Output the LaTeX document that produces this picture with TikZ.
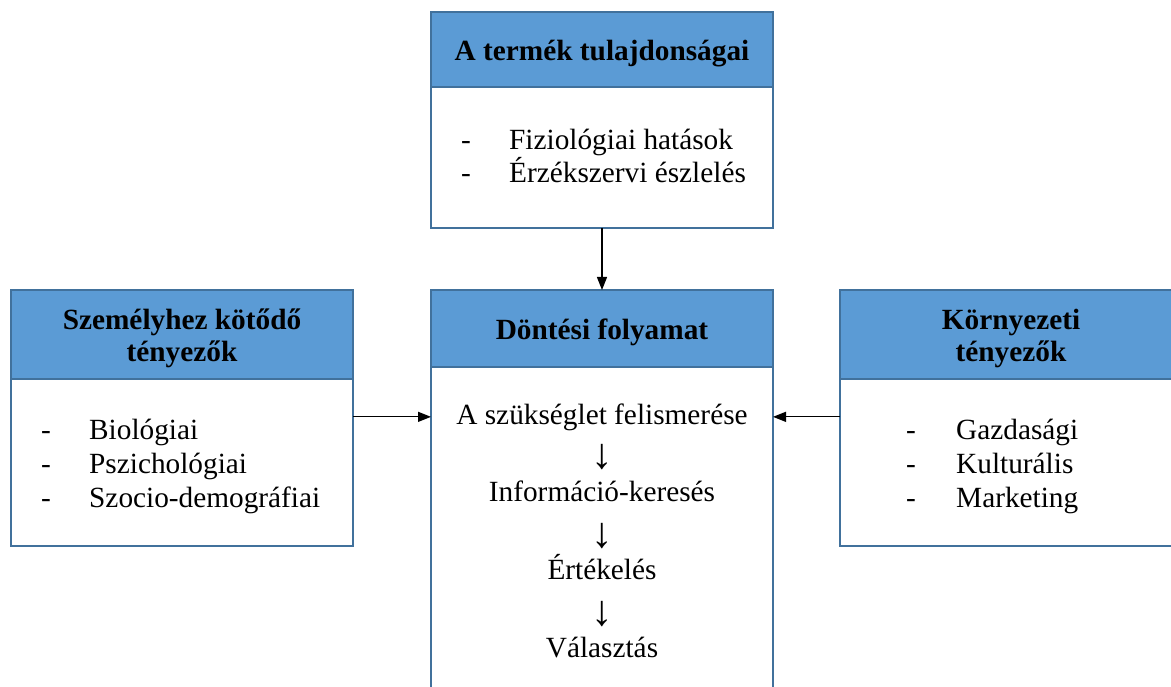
\documentclass[tikz,border=0pt]{standalone}
\usepackage{fontspec}
\setmainfont{Liberation Serif}
\usetikzlibrary{arrows.meta}
\definecolor{hdrblue}{HTML}{5B9BD5}
\definecolor{edgeblue}{HTML}{41719C}

\begin{document}
\begin{tikzpicture}[x=1pt,y=-1pt,
  boxbase/.style={draw=edgeblue, line width=2.2pt, inner sep=0pt, outer sep=0pt,
    anchor=north west, minimum width=342pt},
  hdr/.style={boxbase, fill=hdrblue},
  hdrtext/.style={inner sep=0pt, align=center, yshift=-4pt,
    font=\fontsize{29.3}{32}\selectfont\bfseries},
  bodybox/.style={boxbase, fill=white},
  item/.style={anchor=base west, inner sep=0pt, font=\fontsize{29.3}{33}\selectfont},
  stage/.style={anchor=base, inner sep=0pt, font=\fontsize{29.3}{33}\selectfont},
  stagearrow/.style={anchor=base, inner sep=0pt, font=\fontsize{43}{43}\selectfont},
  link/.style={line width=1.3pt, -{Triangle[length=13pt,width=10pt]}}]

\useasboundingbox (0,0) rectangle (1171,687);
\clip (0,0) rectangle (1171,687);

% product box (top)
\node[bodybox, minimum height=141pt] (topbody) at (431,87) {};
\node[hdr, minimum height=75pt] (tophdr) at (431,12) {};
\node[hdrtext] (tophdrtxt) at (tophdr.center) {A termék tulajdonságai};
\node[item] (t1d) at (461,150) {-};
\node[item] (t1) at (509,150) {Fiziológiai hatások};
\node[item] (t2d) at (461,183) {-};
\node[item] (t2) at (509,183) {Érzékszervi észlelés};

% personal factors (left)
\node[bodybox, minimum height=167pt] (leftbody) at (11,379) {};
\node[hdr, minimum height=89pt] (lefthdr) at (11,290) {};
\node[hdrtext] (lefthdrtxt) at (lefthdr.center) {Személyhez kötődő\\tényezők};
\node[item] (l1d) at (41,439) {-};
\node[item] (l1) at (89,439) {Biológiai};
\node[item] (l2d) at (41,473) {-};
\node[item] (l2) at (89,473) {Pszichológiai};
\node[item] (l3d) at (41,507) {-};
\node[item] (l3) at (89,507) {Szocio-demográfiai};

% decision process (centre)
\node[bodybox, minimum height=340pt] (cenbody) at (431,367) {};
\node[hdr, minimum height=77pt] (cenhdr) at (431,290) {};
\node[hdrtext] (cenhdrtxt) at (cenhdr.center) {Döntési folyamat};
\node[stage] (s1) at (602,424) {A szükséglet felismerése};
\node[stagearrow] (a1) at (602,468) {↓};
\node[stage] (s2) at (602,501) {Információ-keresés};
\node[stagearrow] (a2) at (602,547) {↓};
\node[stage] (s3) at (602,579) {Értékelés};
\node[stagearrow] (a3) at (602,625) {↓};
\node[stage] (s4) at (602,657) {Választás};

% environmental factors (right)
\node[bodybox, minimum height=167pt] (rightbody) at (840,379) {};
\node[hdr, minimum height=89pt] (righthdr) at (840,290) {};
\node[hdrtext] (righthdrtxt) at (righthdr.center) {Környezeti\\tényezők};
\node[item] (r1d) at (906,439) {-};
\node[item] (r1) at (956,439) {Gazdasági};
\node[item] (r2d) at (906,473) {-};
\node[item] (r2) at (956,473) {Kulturális};
\node[item] (r3d) at (906,507) {-};
\node[item] (r3) at (956,507) {Marketing};

% influences
\draw[link] (topbody.south) -- (cenhdr.north);
\draw[link] (leftbody.east |- s1.center) -- (cenbody.west |- s1.center);
\draw[link] (rightbody.west |- s1.center) -- (cenbody.east |- s1.center);
\end{tikzpicture}
\end{document}
